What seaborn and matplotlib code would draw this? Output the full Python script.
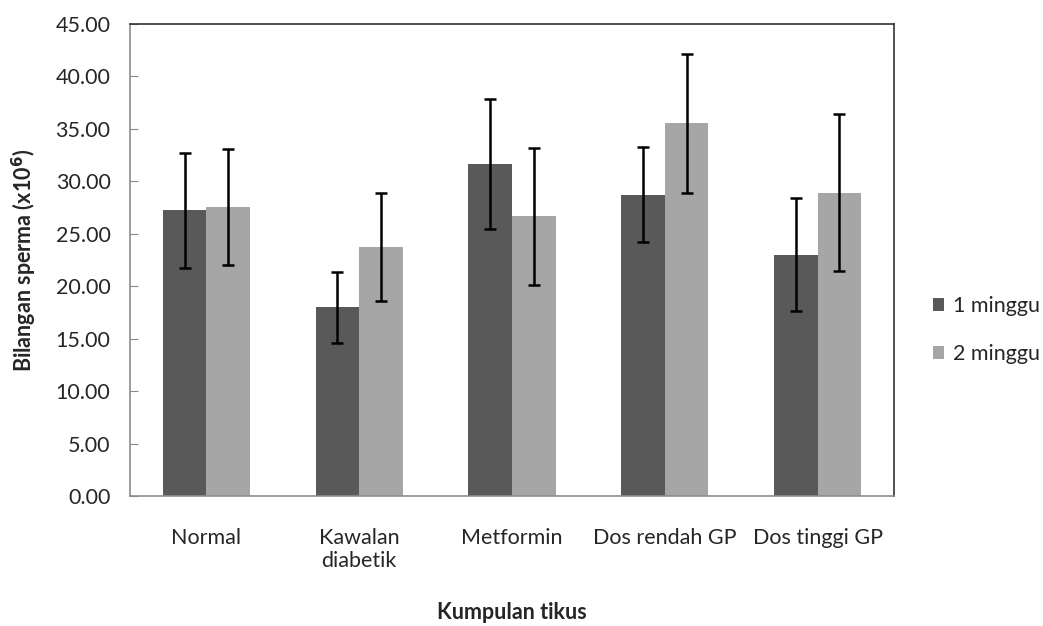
import seaborn as sns
import matplotlib.pyplot as plt
import numpy as np
import pandas as pd

kumpulan = ["Normal", "Kawalan\ndiabetik", "Metformin", "Dos rendah GP", "Dos tinggi GP"]
minggu_1 = [27.24, 17.99, 31.68, 28.73, 23.00]
minggu_2 = [27.55, 23.71, 26.66, 35.53, 28.92]
ralat_1 = [5.5, 3.4, 6.2, 4.5, 5.4]
ralat_2 = [5.55, 5.15, 6.5, 6.6, 7.5]
siri = ["1 minggu", "2 minggu"]

df = pd.DataFrame({
    "kumpulan": kumpulan * 2,
    "minggu": [siri[0]] * 5 + [siri[1]] * 5,
    "bilangan": minggu_1 + minggu_2,
})

sns.set_style("white")
plt.rcParams['font.family'] = ['Lato', 'DejaVu Sans']

fig = plt.figure(figsize=(10.43, 6.26), dpi=100)
ax = fig.add_axes([0.1246, 0.2077, 0.8571 - 0.1246, 0.9617 - 0.2077])

sns.barplot(data=df, x="kumpulan", y="bilangan", hue="minggu", order=kumpulan,
            hue_order=siri, palette=["#595959", "#a6a6a6"], errorbar=None,
            width=0.57, saturation=1, linewidth=0, ax=ax)

# error bars at bar centres (seaborn puts bars hue by hue)
bars = ax.patches[:10]
ralat = ralat_1 + ralat_2
for b, e in zip(bars, ralat):
    ax.errorbar(b.get_x() + b.get_width() / 2, b.get_height(), yerr=e,
                fmt="none", ecolor="black", elinewidth=1.8, capsize=4.5, capthick=1.8)

fs = 15.5
ax.set_ylim(0, 45)
ax.set_yticks(np.arange(0, 46, 5))
ax.set_yticklabels([f"{v:.2f}" for v in np.arange(0, 46, 5)], fontsize=fs)
ax.tick_params(axis="y", direction="in", length=6, color="#888888", left=True, pad=14)
ax.tick_params(axis="x", length=0, labelsize=fs, pad=23)
ax.set_xlim(-0.5, 4.5)

for s in ["left", "bottom"]:
    ax.spines[s].set_color("#8c8c8c")
for s in ["top", "right"]:
    ax.spines[s].set_color("#333333")
for s in ax.spines.values():
    s.set_linewidth(1.2)

ax.set_xlabel("Kumpulan tikus", fontsize=fs, fontweight="bold", labelpad=22)
ax.set_ylabel(r"Bilangan sperma (x10$^{\mathbf{6}}$)", fontsize=fs, fontweight="bold", labelpad=12)

ax.legend(loc="center left", bbox_to_anchor=(0.884, 0.473), bbox_transform=fig.transFigure,
          frameon=False, fontsize=15.5, handlelength=0.5, handleheight=0.55,
          handletextpad=0.42, labelspacing=1.3, borderpad=0)

fig.savefig("out.png", dpi=100)
